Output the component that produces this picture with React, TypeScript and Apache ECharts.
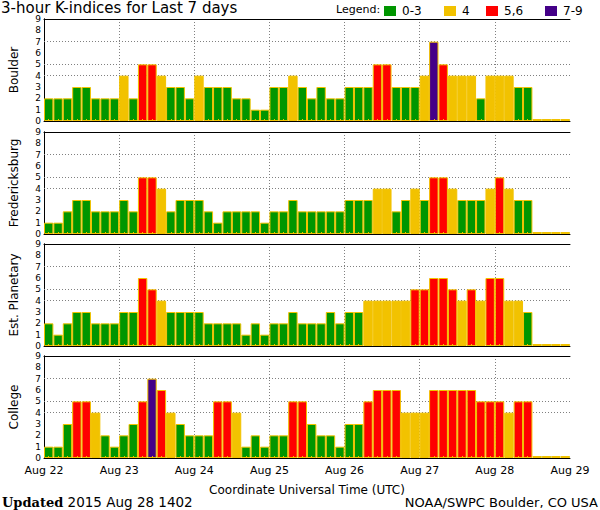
import React, { useEffect, useRef } from "react";
import * as echarts from "echarts";

const DAY_LABELS = ["Aug 22", "Aug 23", "Aug 24", "Aug 25", "Aug 26", "Aug 27", "Aug 28", "Aug 29"];
const STATIONS = ["Boulder", "Fredericksburg", "Est. Planetary", "College"];
const LEGEND_NAMES = ["0-3", "4", "5,6", "7-9"];
const CLASS_COLORS = ["#009600", "#F2C200", "#FF0000", "#440088"];
const BORDER_COLOR = "#F2C200";

const N = null;
const boulder = [
  2, 2, 2, 3, 3, 2, 2, 2,
  4, 2, 5, 5, 4, 3, 3, 2,
  4, 3, 3, 3, 2, 2, 1, 1,
  3, 3, 4, 3, 2, 3, 2, 2,
  3, 3, 3, 5, 5, 3, 3, 3,
  4, 7, 5, 4, 4, 4, 2, 4,
  4, 4, 3, 3, N, N, N, N,
];
const fredericksburg = [
  1, 1, 2, 3, 3, 2, 2, 2,
  3, 2, 5, 5, 4, 2, 3, 3,
  3, 2, 1, 2, 2, 2, 2, 1,
  2, 2, 3, 2, 2, 2, 2, 2,
  3, 3, 3, 4, 4, 2, 3, 4,
  3, 5, 5, 4, 3, 3, 3, 4,
  5, 4, 3, 3, N, N, N, N,
];
const planetary = [
  2, 1, 2, 3, 3, 2, 2, 2,
  3, 3, 6, 5, 4, 3, 3, 3,
  3, 2, 2, 2, 2, 1, 2, 1,
  2, 2, 3, 2, 2, 2, 3, 2,
  3, 3, 4, 4, 4, 4, 4, 5,
  5, 6, 6, 5, 4, 5, 4, 6,
  6, 4, 4, 3, N, N, N, N,
];
const college = [
  1, 1, 3, 5, 5, 4, 2, 1,
  2, 3, 5, 7, 6, 4, 3, 2,
  2, 2, 5, 5, 4, 1, 2, 1,
  2, 2, 5, 5, 3, 2, 2, 1,
  3, 3, 5, 6, 6, 6, 4, 4,
  4, 6, 6, 6, 6, 6, 5, 5,
  5, 4, 5, 5, N, N, N, N,
];
const STATION_DATA = [boulder, fredericksburg, planetary, college];
const GRID_LINES = [4, 5, 7];

const FONT = "DejaVu Sans";

function classOf(v: number | null): number {
  if (v == null || v <= 3) return 0;
  if (v === 4) return 1;
  if (v <= 6) return 2;
  return 3;
}

function buildOption() {
  const tops = [19, 132, 244, 356];
  const legendLefts = [384, 444, 486, 545];
  const grid: any[] = [];
  const xAxis: any[] = [];
  const yAxis: any[] = [];
  const series: any[] = [];
  const slots = boulder.map((_, i) => String(i));

  STATION_DATA.forEach((data, g) => {
    grid.push({ left: 36, width: 534, top: tops[g], height: 102, containLabel: false });
    xAxis.push({
      type: "category",
      gridIndex: g,
      data: slots,
      boundaryGap: true,
      z: 3,
      axisLine: { show: true, lineStyle: { color: "#000", width: 1 } },
      axisTick: { show: true, inside: true, length: 2, alignWithLabel: true, interval: 0, lineStyle: { color: BORDER_COLOR } },
      axisLabel: { show: false },
      splitLine: { show: false },
    });
    xAxis.push({
      type: "value",
      gridIndex: g,
      position: "bottom",
      min: 0,
      max: 7,
      interval: 1,
      axisLine: { show: false },
      axisTick: { show: false },
      axisLabel: {
        show: g === 3,
        formatter: (v: number) => DAY_LABELS[v] ?? "",
        fontSize: 11,
        fontFamily: FONT,
        color: "#000",
        margin: 7,
      },
      splitLine: { show: true, showMinLine: false, showMaxLine: false, lineStyle: { color: "#808080", type: [1, 2], width: 1 } },
      name: g === 3 ? "Coordinate Universal Time (UTC)" : "",
      nameLocation: "middle",
      nameGap: 26,
      nameTextStyle: { fontSize: 12, fontFamily: FONT, color: "#000" },
    });
    xAxis.push({
      type: "value",
      gridIndex: g,
      position: "top",
      min: 0,
      max: 1,
      axisLine: { show: true, lineStyle: { color: "#000", width: 1 } },
      axisTick: { show: false },
      axisLabel: { show: false },
      splitLine: { show: false },
    });
    yAxis.push({
      type: "value",
      gridIndex: g,
      position: "left",
      min: 0,
      max: 9,
      interval: 1,
      axisLine: { show: true, lineStyle: { color: "#000", width: 1 } },
      axisTick: { show: false },
      axisLabel: { fontSize: 9, lineHeight: 6, fontFamily: FONT, color: "#000", margin: 3 },
      splitLine: { show: false },
      name: STATIONS[g],
      nameLocation: "middle",
      nameRotate: 90,
      nameGap: 24,
      nameTextStyle: { fontSize: 12, fontFamily: FONT, color: "#000" },
    });
    yAxis.push({
      type: "value",
      gridIndex: g,
      position: "right",
      min: 0,
      max: 9,
      interval: 1,
      axisLine: { show: true, lineStyle: { color: "#000", width: 1, type: [3, 2] } },
      axisTick: { show: false },
      axisLabel: { show: false },
      splitLine: { show: false },
    });

    LEGEND_NAMES.forEach((name, c) => {
      const s: any = {
        type: "bar",
        name,
        xAxisIndex: g * 3,
        yAxisIndex: g * 2,
        barCategoryGap: "0%",
        barGap: "-100%",
        z: 2,
        itemStyle: { color: CLASS_COLORS[c], borderColor: BORDER_COLOR, borderWidth: 1 },
        data: data.map((v) => (classOf(v) === c ? (v == null ? 0 : v) : "-")),
      };
      if (c === 0) {
        s.barMinHeight = 2;
        s.markLine = {
          silent: true,
          symbol: "none",
          z: 1,
          label: { show: false },
          lineStyle: { color: "#808080", type: [1, 2], width: 1 },
          data: GRID_LINES.map((y) => ({ yAxis: y })),
        };
      }
      series.push(s);
    });
  });

  const legend = LEGEND_NAMES.map((name, i) => ({
    data: [name],
    left: legendLefts[i],
    top: 5,
    padding: 0,
    itemWidth: 12,
    itemHeight: 10,
    icon: "rect",
    selectedMode: false,
    itemStyle: { borderWidth: 0 },
    textStyle: { fontSize: 12, fontFamily: FONT, color: "#000", padding: [0, 0, 0, 1] },
  }));

  return {
    animation: false,
    backgroundColor: "#fff",
    textStyle: { fontFamily: FONT },
    title: {
      text: "3-hour K-indices for Last 7 days",
      left: 1,
      top: 0,
      padding: 0,
      textStyle: { fontSize: 15, lineHeight: 15, fontWeight: "normal", fontFamily: FONT, color: "#000" },
    },
    legend,
    graphic: [
      {
        type: "text",
        left: 336,
        top: 4,
        style: { text: "Legend:", fontSize: 11, fontFamily: FONT, fill: "#000" },
      },
      {
        type: "text",
        x: 2,
        y: 502,
        style: {
          text: "{b|Updated} 2015 Aug 28 1402",
          fontSize: 13.5,
          lineHeight: 13,
          verticalAlign: "middle",
          fontFamily: FONT,
          fill: "#000",
          rich: {
            b: { fontFamily: "DejaVu Serif", fontWeight: "bold", fontSize: 13, lineHeight: 13, fill: "#000" },
          },
        },
      },
      {
        type: "text",
        x: 598,
        y: 502,
        style: {
          text: "NOAA/SWPC Boulder, CO USA",
          fontSize: 13,
          lineHeight: 13,
          align: "right",
          verticalAlign: "middle",
          fontFamily: FONT,
          fill: "#000",
        },
      },
    ],
    grid,
    xAxis,
    yAxis,
    series,
  };
}

export default function App() {
  const ref = useRef<HTMLDivElement>(null);
  useEffect(() => {
    if (!ref.current) return;
    const chart = echarts.init(ref.current, undefined, { renderer: "svg" });
    chart.setOption(buildOption() as any);
    return () => chart.dispose();
  }, []);
  return (
    <div
      ref={ref}
      style={{ position: "absolute", left: 0, top: 0, width: 600, height: 510, background: "#fff" }}
    />
  );
}
